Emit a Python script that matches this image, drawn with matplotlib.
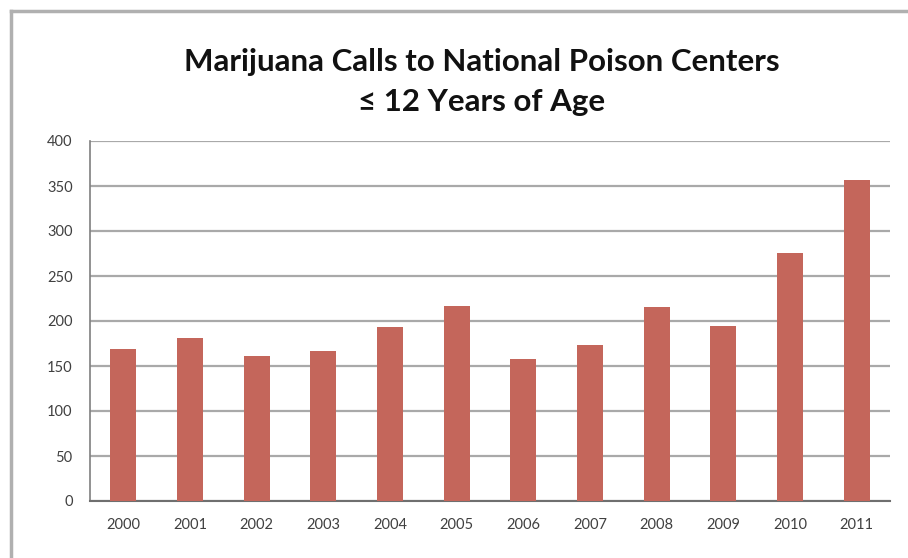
import matplotlib.pyplot as plt
from matplotlib.lines import Line2D

years = ["2000", "2001", "2002", "2003", "2004", "2005",
         "2006", "2007", "2008", "2009", "2010", "2011"]
calls = [169, 181, 161, 167, 193, 217, 158, 173, 216, 194, 276, 357]
y_ticks = [0, 50, 100, 150, 200, 250, 300, 350, 400]

bar_color = "#c4665b"
W, H = 908, 558

fig = plt.figure(figsize=(W / 100, H / 100), dpi=100)
ax = fig.add_axes([90 / W, 1 - 501 / H, 800 / W, 360 / H])

x = range(len(years))
ax.bar(x, calls, width=0.39, color=bar_color, zorder=3)

ax.set_xlim(-0.5, len(years) - 0.5)
ax.set_ylim(0, 400)
ax.set_yticks(y_ticks)
ax.set_xticks(list(x))
ax.set_xticklabels(years)
ax.yaxis.grid(True, color="#a9a9a9", linewidth=1.6, zorder=0)
ax.set_axisbelow(True)

for side in ["top", "right"]:
    ax.spines[side].set_visible(False)
ax.spines["left"].set_color("#7f7f7f")
ax.spines["bottom"].set_color("#6f6f6f")
ax.spines["left"].set_linewidth(1.2)
ax.spines["bottom"].set_linewidth(1.5)
ax.tick_params(axis="both", length=0, labelsize=10.5, labelcolor="#404040")
for lbl in ax.get_xticklabels() + ax.get_yticklabels():
    lbl.set_family("Lato")
ax.tick_params(axis="y", pad=12.5)
ax.tick_params(axis="x", pad=12)

title_x = 482 / W
fig.text(title_x, 1 - 62 / H, "Marijuana Calls to National Poison Centers",
         ha="center", va="center", fontsize=22.5, fontweight="bold",
         family="Lato", color="#111111")
fig.text(title_x, 1 - 102 / H, "\u2264 12 Years of Age",
         ha="center", va="center", fontsize=22.5, fontweight="bold",
         family=["Lato", "DejaVu Sans"], color="#111111")

# outer frame (top and left edges only)
fig.add_artist(Line2D([11 / W, 1], [1 - 11 / H, 1 - 11 / H],
                      transform=fig.transFigure, color="#b0b0b0", linewidth=2.5))
fig.add_artist(Line2D([11 / W, 11 / W], [0, 1 - 11 / H],
                      transform=fig.transFigure, color="#b0b0b0", linewidth=2.5))

fig.savefig("out.png", dpi=100)
